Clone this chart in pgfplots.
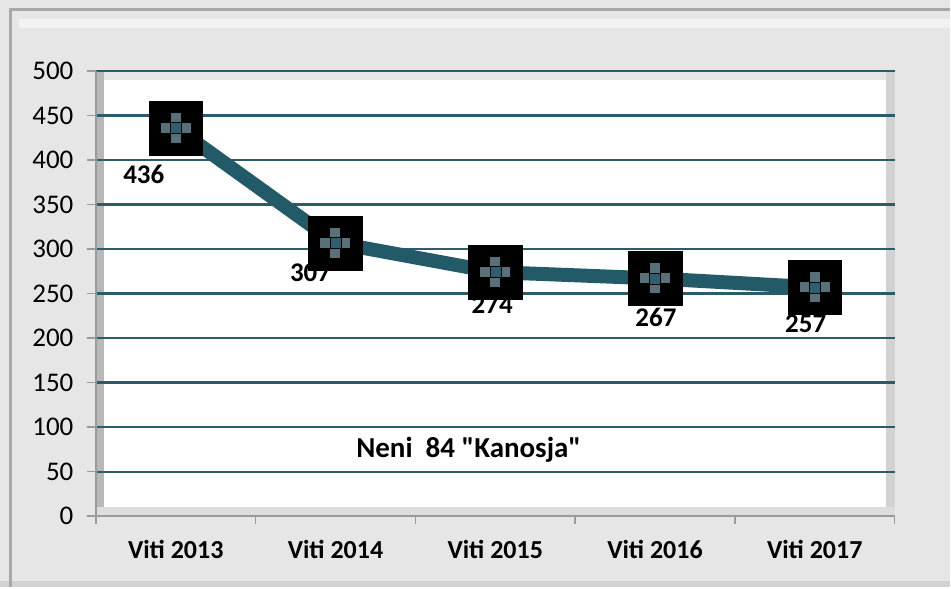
\documentclass[border=0pt]{standalone}
\usepackage{pgfplots}
\pgfplotsset{compat=1.18}
\usepackage{fontspec}
\setmainfont{Carlito}[Ligatures=TeXOff]
\definecolor{bgc}{HTML}{E6E6E6}
\definecolor{bottomstrip}{HTML}{D2D2D2}
\definecolor{topstrip}{HTML}{F2F2F2}
\definecolor{borderc}{HTML}{A8A8A8}
\definecolor{leftwall}{HTML}{B8B8B8}
\definecolor{floorc}{HTML}{DDDDDD}
\definecolor{rightwall}{HTML}{D2D2D2}
\definecolor{axisgray}{HTML}{9A9A9A}
\definecolor{gridc}{RGB}{42,92,106}
\definecolor{linec}{RGB}{35,90,104}
\definecolor{crossc}{RGB}{88,112,120}
\definecolor{crosscenter}{RGB}{45,95,110}
\pgfplotstableread{
x y dx dy lab
0 436 -32 -47 436
1 307 -25 -30 307
2 274 -3 -33 274
3 267 1 -39 267
4 257 -9 -37 257
}\datatab
\begin{document}
\begin{tikzpicture}
\fill[bgc] (-96bp,-71bp) rectangle (855bp,517bp);
\fill[bottomstrip] (-96bp,-71bp) rectangle (855bp,-65bp);
\fill[topstrip] (-77bp,489bp) rectangle (855bp,498bp);
\draw[borderc, line width=3bp] (-85.5bp,-71bp) -- (-85.5bp,507bp) -- (855bp,507bp);
\fill[leftwall] (0bp,0bp) rectangle (8bp,446bp);
\fill[floorc] (0bp,0bp) rectangle (800bp,9bp);
\fill[rightwall] (791bp,9bp) rectangle (800bp,446bp);
\fill[white] (8bp,9bp) rectangle (791bp,437bp);
\begin{axis}[
  at={(0bp,0bp)}, anchor=south west,
  width=800bp, height=446bp, scale only axis,
  xmin=-0.5, xmax=4.5, ymin=0, ymax=500,
  axis x line*=bottom, axis y line*=left,
  axis line style={draw=axisgray, line width=1.5bp},
  ytick={0,50,...,500},
  ymajorgrids,
  grid style={draw=gridc, line width=2.2bp},
  tick align=outside,
  major tick length=9bp,
  minor tick length=8bp,
  tick style={draw=axisgray, line width=1.5bp},
  xtick={0,1,2,3,4},
  xticklabels={Viti 2013,Viti 2014,Viti 2015,Viti 2016,Viti 2017},
  major x tick style={draw=none},
  minor xtick={-0.5,0.5,1.5,2.5,3.5,4.5},
  /pgf/number format/assume math mode=true,
  yticklabel style={font=\fontsize{27bp}{32bp}\selectfont, text=black, xshift=-10bp},
  xticklabel style={font=\bfseries\fontsize{26bp}{31bp}\selectfont, text=black, yshift=-12bp},
  clip=false,
]
\addplot[draw=none, mark=square*, mark size=27bp, mark options={fill=black, draw=none}]
  table[x=x,y=y] {\datatab};
\addplot[linec, line width=14bp, line join=round, line cap=round, mark=none]
  table[x=x,y=y] {\datatab};
\addplot[only marks, mark=+, mark size=15bp, mark options={draw=crossc, line width=10bp}]
  table[x=x,y=y] {\datatab};
\addplot[only marks, mark=square*, mark size=5.5bp, mark options={fill=crosscenter, draw=none}]
  table[x=x,y=y] {\datatab};
\addplot[draw=none, mark=none, nodes near coords, point meta=explicit symbolic,
  visualization depends on={\thisrow{dx}\as\dxv},
  visualization depends on={\thisrow{dy}\as\dyv},
  every node near coord/.append style={anchor=center, xshift=\dxv bp, yshift=\dyv bp,
    font=\bfseries\fontsize{27bp}{32bp}\selectfont, text=black, inner sep=0pt}]
  table[x=x,y=y,meta=lab] {\datatab};
\node[font=\bfseries\fontsize{29bp}{34bp}\selectfont] at (axis cs:1.834,74) {Neni\ \ 84 "Kanosja"};
\end{axis}
\end{tikzpicture}
\end{document}
